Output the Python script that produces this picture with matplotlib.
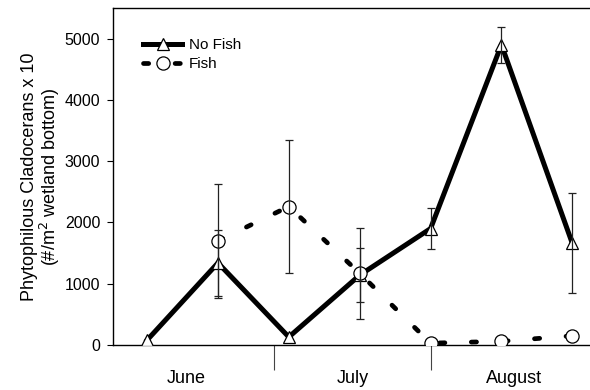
import matplotlib
matplotlib.use("Agg")
import numpy as np
import matplotlib.pyplot as plt

plt.rcParams['font.family'] = ['Liberation Sans', 'DejaVu Sans']

# sampling dates, days after 1 June
days = [5, 19, 33, 47, 61, 75, 89]
no_fish = [80, 1340, 130, 1140, 1900, 4900, 1660]
no_fish_err = [np.nan, 540, np.nan, 440, 335, 290, 815]
fish = [np.nan, 1700, 2260, 1170, 30, 60, 150]
fish_err = [np.nan, 930, 1080, 740, np.nan, np.nan, np.nan]

month_edges = [30, 61]
month_centers = [12.8, 45.6, 77.5]
month_names = ["June", "July", "August"]

fig = plt.figure(figsize=(5.9, 3.9), dpi=100)
ax = fig.add_axes([0.191, 0.1154, 0.809, 0.8641])

ax.plot(days, no_fish, color='black', lw=3.6, marker='^', ms=9,
        mfc='white', mec='black', mew=0.9, label='No Fish', zorder=3)
ax.plot(days, fish, color='black', lw=3.4, ls=(0, (1.1, 5.6)),
        dash_capstyle='round', marker='o', ms=9.5, mfc='white',
        mec='black', mew=0.9, label='Fish', zorder=4)

ax.errorbar(days, no_fish, yerr=no_fish_err, fmt='none', ecolor='#222222',
            elinewidth=0.9, capsize=3, capthick=0.9, zorder=5)
ax.errorbar(days, fish, yerr=fish_err, fmt='none', ecolor='#222222',
            elinewidth=0.9, capsize=3, capthick=0.9, zorder=5)

ax.set_xlim(-1.8, 92.5)
ax.set_ylim(0, 5500)
ax.set_yticks([0, 1000, 2000, 3000, 4000, 5000])
ax.tick_params(axis='y', direction='out', length=4, width=0.8, labelsize=11.5, pad=5)

ax.set_xticks(month_edges)
ax.set_xticklabels([])
ax.set_xticks(month_centers, minor=True)
ax.set_xticklabels(month_names, minor=True)
ax.tick_params(axis='x', which='major', direction='out', length=18,
               width=0.8, color='#444444')
ax.tick_params(axis='x', which='minor', length=0, labelsize=13, pad=18)

ax.spines['right'].set_visible(False)
for s in ['left', 'top', 'bottom']:
    ax.spines[s].set_linewidth(1.0)

ax.set_ylabel("Phytophilous Cladocerans x 10\n(#/m$^2$ wetland bottom)",
              fontsize=13, linespacing=1.0, labelpad=2)

ax.legend(loc='upper left', bbox_to_anchor=(0.063, 0.91), frameon=False,
          fontsize=11, handlelength=2.6, handletextpad=0.4,
          labelspacing=0.3, borderpad=0, borderaxespad=0, numpoints=1)

fig.savefig("out.png", dpi=100)
